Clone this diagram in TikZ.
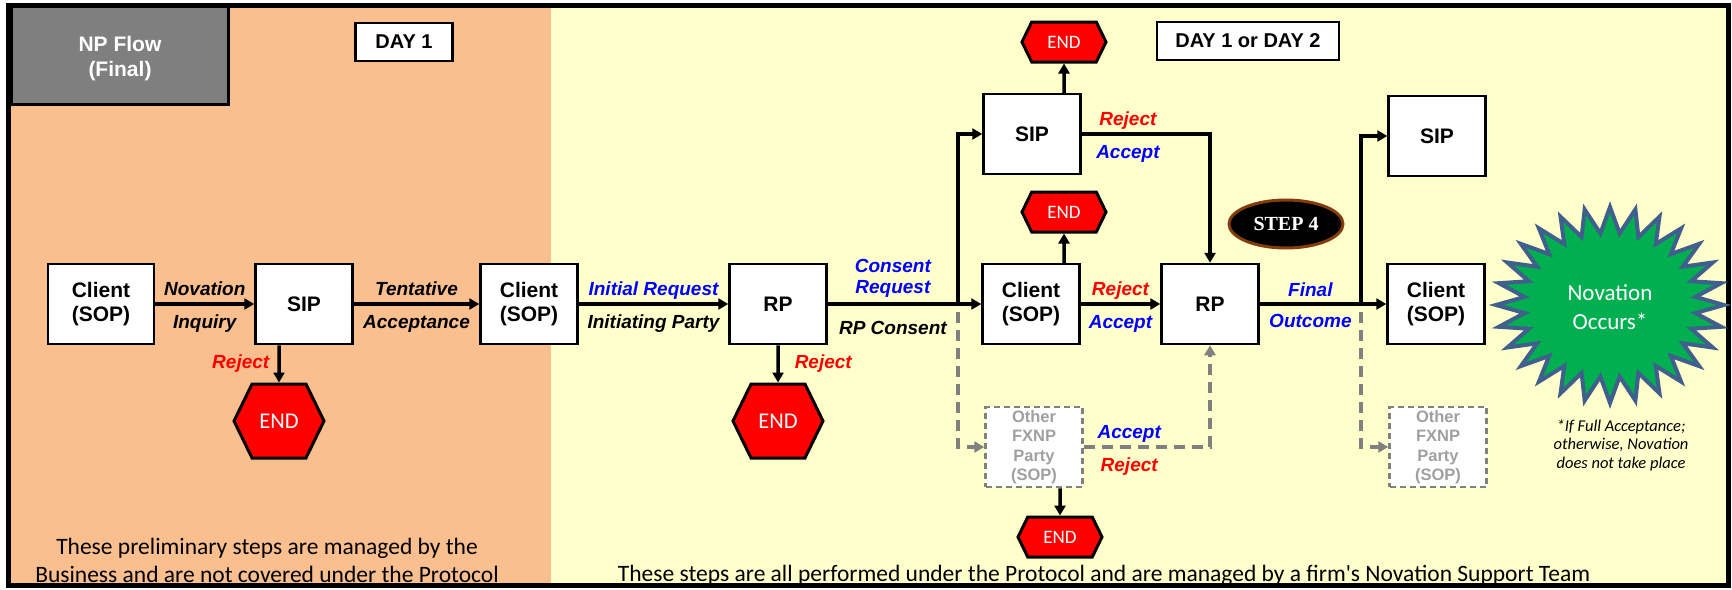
\documentclass[tikz,border=0pt]{standalone}
\usepackage{fontspec}
\setmainfont{Liberation Sans}
\newfontfamily\califont{Carlito}
\newfontfamily\stepfont{Liberation Serif}
\usepackage{tikz}
\usetikzlibrary{arrows.meta,shapes.symbols,shapes.geometric,calc}

\definecolor{tanbg}{RGB}{250,191,143}
\definecolor{lemonbg}{RGB}{255,255,204}
\definecolor{npgray}{RGB}{127,127,127}
\definecolor{endred}{RGB}{255,0,0}
\definecolor{lblblue}{RGB}{0,0,255}
\definecolor{lblred}{RGB}{255,0,0}
\definecolor{dashgray}{RGB}{128,128,128}
\definecolor{othgray}{RGB}{160,160,160}
\definecolor{burstgreen}{RGB}{0,176,80}
\definecolor{burstblue}{RGB}{65,95,140}
\definecolor{stepbrown}{RGB}{132,60,12}

\tikzset{
  box/.style={draw, line width=2.5pt, fill=white, minimum width=97pt, minimum height=80pt,
    inner sep=0pt, align=center, font=\fontsize{21}{24}\selectfont\bfseries},
  otherbox/.style={box, draw=dashgray, dash pattern=on 6pt off 4pt, text=othgray,
    font=\fontsize{16.5}{19.5}\selectfont\bfseries},
  daybox/.style={draw, line width=2.5pt, fill=white, inner sep=0pt, minimum height=38pt,
    font=\fontsize{20}{22}\selectfont\bfseries},
  endsign/.style={signal, signal to=east and west, signal pointer angle=128, draw, line width=3pt,
    fill=endred, text=white, inner sep=0pt, minimum width=84pt, minimum height=40pt,
    font=\califont\fontsize{19}{20}\selectfont},
  bigend/.style={endsign, minimum width=90pt, minimum height=74pt,
    font=\califont\fontsize{22.5}{24}\selectfont},
  arr/.style={line width=3.5pt, -{Triangle[length=10pt,width=11pt]}},
  darr/.style={line width=3.5pt, draw=dashgray, dash pattern=on 11pt off 7pt,
    -{Triangle[length=10pt,width=11pt]}},
  lblfont/.style={inner sep=0pt, font=\fontsize{19}{21}\selectfont\bfseries\itshape},
  lbl/.style={lblfont, text height=14pt, text depth=4pt},
  lblup/.style={lbl, above=3pt},
  lbldn/.style={lbl, below=9pt},
  burst/.style={draw=burstblue, line width=4pt, line join=miter, fill=burstgreen},
}

\begin{document}
\begin{tikzpicture}[x=1pt,y=-1pt]
\useasboundingbox (0,0) rectangle (1732,589);
\fill[tanbg] (8,5) rectangle (551,585);
\fill[lemonbg] (551,5) rectangle (1728,585);
\draw[line width=5pt] (8,5) rectangle (1728,585);

\node[draw, line width=3pt, fill=npgray, minimum width=217pt, minimum height=98pt] (npflow) at (120,55) {};
\node[text=white, align=center, font=\fontsize{21}{25}\selectfont\bfseries] (nptext) at ([yshift=-4pt]npflow) {NP Flow\\(Final)};
\node[daybox, minimum width=97pt] (day1) at (404,42) {DAY 1};
\node[daybox, minimum width=182pt] (day2) at (1248,41) {DAY 1 or DAY 2};

\node[box, minimum width=106pt] (cl1) at (101,304) {Client\\(SOP)};
\node[box] (sip1) at (304,304) {SIP};
\node[box] (cl2) at (529,304) {Client\\(SOP)};
\node[box] (rp1) at (778,304) {RP};
\node[box] (cl3) at (1031,304) {Client\\(SOP)};
\node[box] (rp2) at (1210,304) {RP};
\node[box] (cl4) at (1436,304) {Client\\(SOP)};
\node[box] (sip2) at (1032,134) {SIP};
\node[box] (sip3) at (1437,136) {SIP};
\node[otherbox] (oth1) at (1034,447) {Other\\FXNP\\Party\\(SOP)};
\node[otherbox] (oth2) at (1438,447) {Other\\FXNP\\Party\\(SOP)};

\node[bigend] (end1) at (279,421) {END};
\node[bigend] (end2) at (778,421) {END};
\node[endsign] (endt) at (1064,42) {END};
\node[endsign] (endm) at (1064,212) {END};
\node[endsign] (endb) at (1060,537) {END};

\node[ellipse, draw=stepbrown, line width=3pt, fill=black, text=white, minimum width=114pt,
  minimum height=48pt, inner sep=0pt, font=\stepfont\fontsize{20}{22}\selectfont\bfseries] (step4) at (1286,224) {STEP 4};

\draw[burst, shift={(1610,305)}] plot[samples=57, domain=0:56, variable=\t]
  ({(114-28*mod(round(\t),2))*cos(\t*45/7)}, {(98-26*mod(round(\t),2))*sin(\t*45/7)}) -- cycle;
\node[text=white, align=center, font=\califont\fontsize{23}{29}\selectfont] (burst) at (1610,307) {Novation\\Occurs*};
\node[align=center, font=\califont\itshape\fontsize{16.5}{18.5}\selectfont] (note) at (1621,445)
  {*If Full Acceptance;\\otherwise, Novation\\does not take place};

\node[align=center, font=\califont\fontsize{23.5}{28}\selectfont] (leftnote) at (267,560)
  {These preliminary steps are managed by the\\Business and are not covered under the Protocol};
\node[font=\califont\fontsize{23.5}{28}\selectfont] (rightnote) at (1104,575)
  {These steps are all performed under the Protocol and are managed by a firm's Novation Support Team};

\coordinate (br1) at (958,304);
\coordinate (br2) at (1361,304);

\draw[arr] (cl1) -- node[lblup]{Novation} node[lbldn]{Inquiry} (sip1);
\draw[arr] (sip1) -- node[lblup]{Tentative} node[lbldn]{Acceptance} (cl2);
\draw[arr] (cl2) -- node[lblup, text=lblblue]{Initial Request} node[lbldn]{Initiating Party} (rp1);
\draw[arr] (sip1.south -| end1) -- node[lbl, left=8pt, text=lblred]{Reject} (end1);
\draw[arr] (rp1) -- node[lbl, right=15pt, text=lblred]{Reject} (end2);
\draw[arr] (rp1) -- (cl3);
\path (rp1.east) -- node[lblfont, above=6pt, align=center, text=lblblue]{Consent\\Request}
  node[lbldn, below=7pt]{RP Consent} (br1);
\draw[arr] (br1) |- (sip2);
\draw[darr] ([yshift=-8pt]br1) |- (oth1);
\draw[arr] (sip2.north -| endt) -- (endt);
\draw[arr] (cl3.north -| endm) -- (endm);
\draw[arr] (oth1.south -| endb) -- (endb);
\draw[arr] (sip2) -| node[pos=0.18, lblup, text=lblred]{Reject} node[pos=0.18, lbldn, text=lblblue]{Accept} (rp2);
\draw[arr] (cl3) -- node[lblup, text=lblred]{Reject} node[lbldn, text=lblblue]{Accept} (rp2);
\draw[darr] (oth1) -| node[pos=0.18, lblup, text=lblblue]{Accept} node[pos=0.18, lbldn, text=lblred]{Reject} (rp2);
\draw[arr] (rp2) -- (cl4);
\path (rp2.east) -- node[lblup, text=lblblue]{Final} node[lbldn, text=lblblue]{Outcome} (br2);
\draw[arr] (br2) |- (sip3);
\draw[darr] ([yshift=-8pt]br2) |- (oth2);
\end{tikzpicture}
\end{document}
